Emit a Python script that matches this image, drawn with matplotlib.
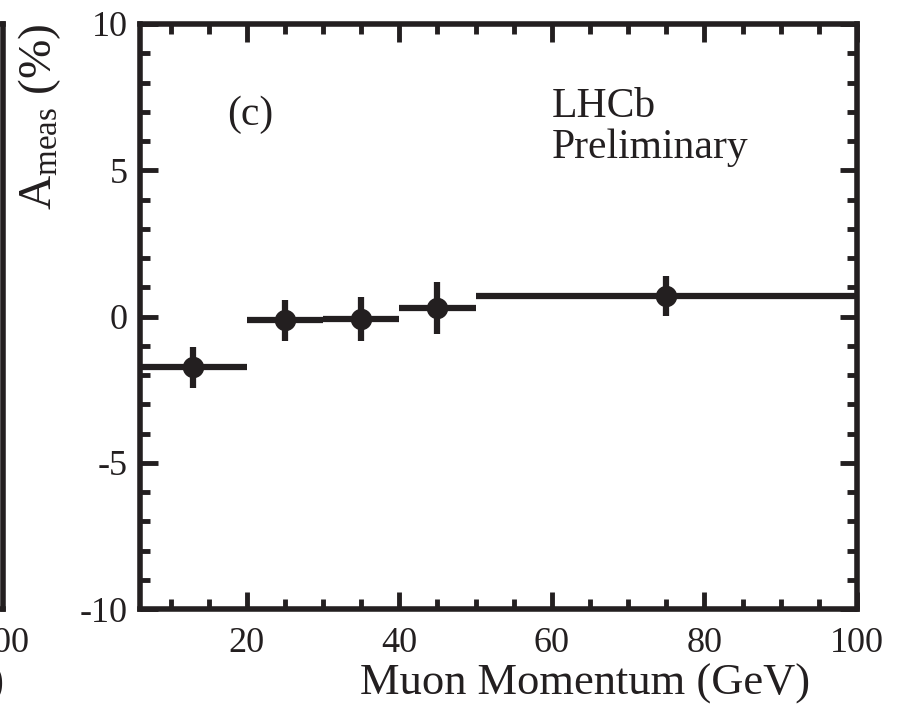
import matplotlib
matplotlib.use("Agg")
import matplotlib.pyplot as plt
from matplotlib.ticker import MultipleLocator

bin_lo = [6, 20, 30, 40, 50]
bin_hi = [20, 30, 40, 50, 100]
momentum = [13, 25, 35, 45, 75]
a_meas = [-1.73, -0.13, -0.08, 0.29, 0.69]
a_err = [0.70, 0.70, 0.76, 0.88, 0.68]

INK = "#231f20"

plt.rcParams["font.family"] = ["Liberation Serif", "DejaVu Serif"]
plt.rcParams["mathtext.fontset"] = "custom"
plt.rcParams["mathtext.rm"] = "Liberation Serif"
plt.rcParams["mathtext.it"] = "Liberation Serif:italic"
plt.rcParams["axes.unicode_minus"] = False
plt.rcParams["text.color"] = INK
plt.rcParams["axes.labelcolor"] = INK
plt.rcParams["xtick.color"] = INK
plt.rcParams["ytick.color"] = INK

W, H = 913, 712
fig = plt.figure(figsize=(W / 100, H / 100), dpi=100)

# main panel (c)
ax_l, ax_r, ax_b, ax_t = 140, 857, 609, 24
ax = fig.add_axes([ax_l / W, 1 - ax_b / H, (ax_r - ax_l) / W, (ax_b - ax_t) / H])

xerr = [[m - lo for m, lo in zip(momentum, bin_lo)],
        [hi - m for m, hi in zip(momentum, bin_hi)]]
ax.errorbar(momentum, a_meas, xerr=xerr, yerr=a_err, fmt="o", color=INK,
            ms=14.4, elinewidth=4.5, capsize=0)

ax.set_xlim(6, 100)
ax.set_ylim(-10, 10)
ax.xaxis.set_major_locator(MultipleLocator(20))
ax.xaxis.set_minor_locator(MultipleLocator(5))
ax.yaxis.set_major_locator(MultipleLocator(5))
ax.yaxis.set_minor_locator(MultipleLocator(1))

for s in ax.spines.values():
    s.set_linewidth(4)
    s.set_color(INK)
ax.tick_params(which="both", direction="in", top=True, right=True, width=3.5)
ax.tick_params(which="major", length=12.6)
ax.tick_params(which="minor", length=7)
ax.tick_params(axis="x", which="major", labelsize=26, pad=13)
ax.tick_params(axis="y", which="major", labelsize=26, pad=8.6)

ax.set_xlabel("Muon Momentum (GeV)", fontsize=32, loc="right")
ax.xaxis.set_label_coords((810 - ax_l) / (ax_r - ax_l), -0.094)
ax.set_ylabel(r"A$_{\mathrm{meas}}$ (%)", fontsize=34, loc="top")
ax.yaxis.set_label_coords(-0.107, 1.0)

ax.text(0.121, 0.827, "(c)", transform=ax.transAxes, fontsize=30, va="baseline")
ax.text(0.5746, 0.841, "LHCb", transform=ax.transAxes, fontsize=30, va="baseline")
ax.text(0.5746, 0.771, "Preliminary", transform=ax.transAxes, fontsize=30, va="baseline")

# edge of the neighbouring panel, cut off at the left
left_r = 2.5
axn = fig.add_axes([(left_r - (ax_r - ax_l)) / W, 1 - ax_b / H, (ax_r - ax_l) / W, (ax_b - ax_t) / H])
axn.set_xlim(0, 100)
axn.set_ylim(-10, 10)
axn.set_xticks([100])
axn.set_yticks([])
for name, s in axn.spines.items():
    s.set_linewidth(4)
    s.set_color(INK)
axn.tick_params(axis="x", direction="in", length=0, labelsize=26, pad=13)
axn.set_xlabel("Muon Momentum (GeV)", fontsize=32, loc="right")
axn.xaxis.set_label_coords(1 + 1.5 / (ax_r - ax_l), -0.094)

fig.savefig("out.png", dpi=100)
